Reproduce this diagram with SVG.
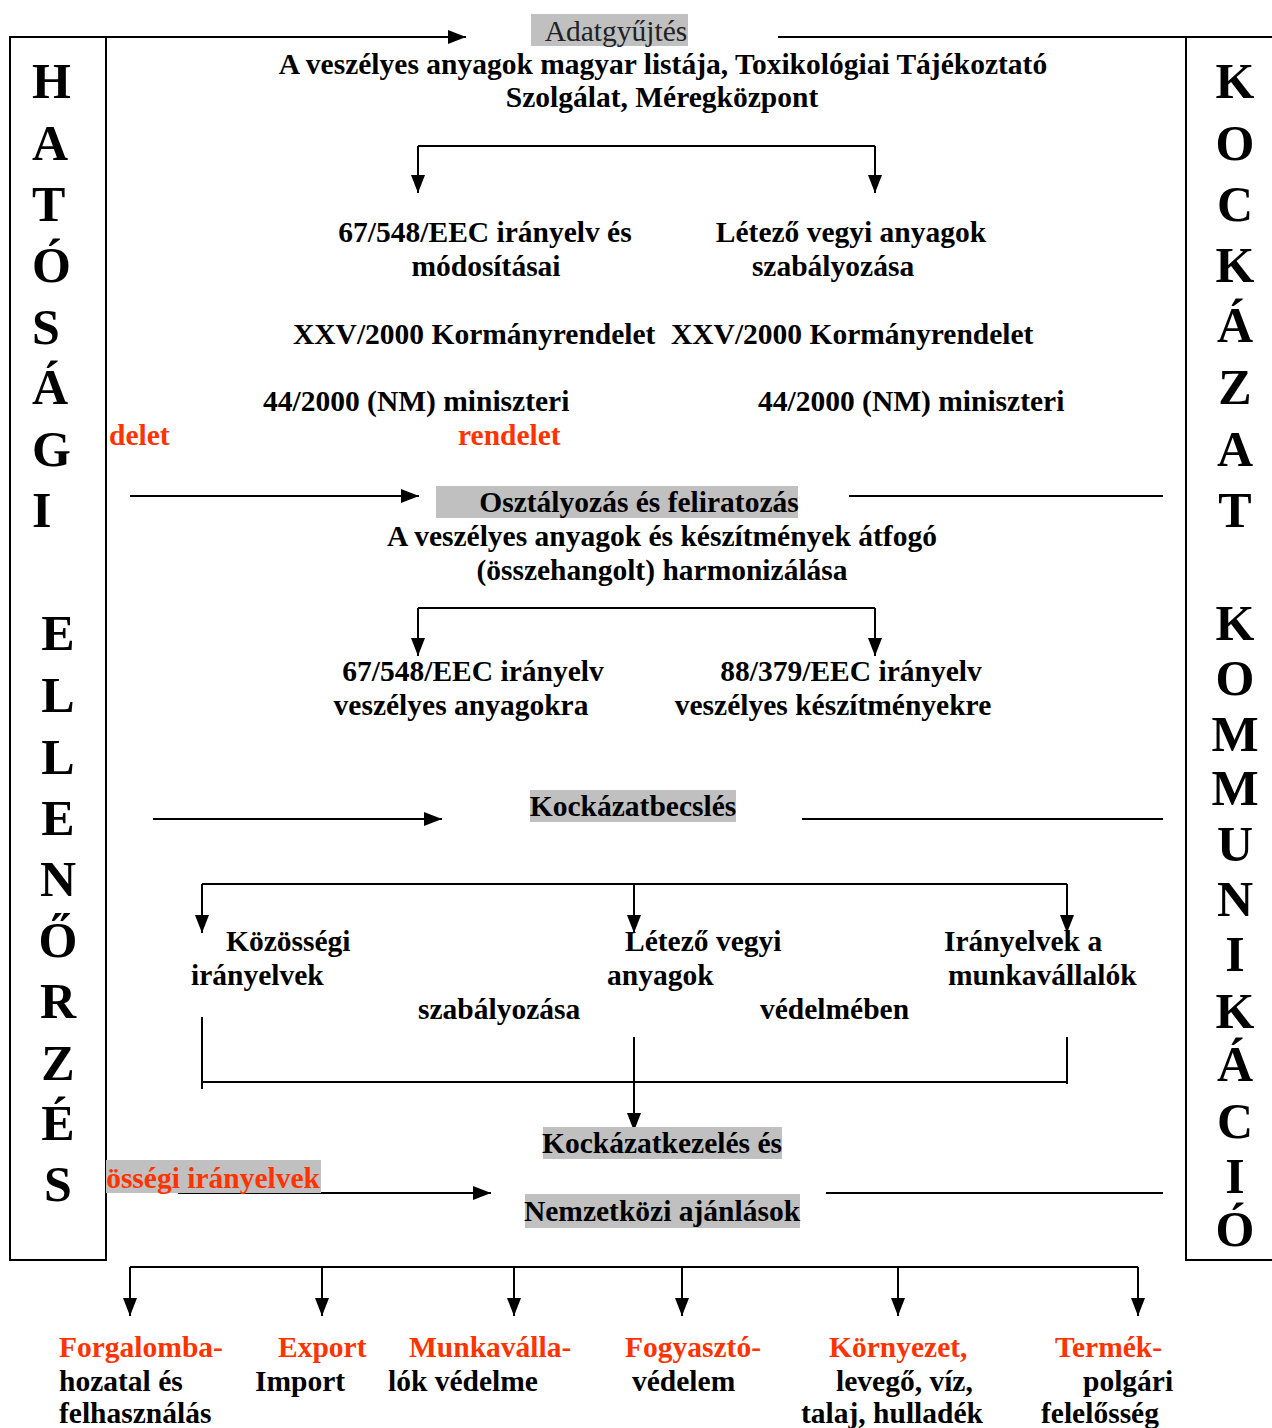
<svg xmlns="http://www.w3.org/2000/svg" width="1272" height="1428" viewBox="0 0 1272 1428">
<style>
text{font-family:"Liberation Serif","Times New Roman",serif;font-weight:bold;font-size:29.5px;fill:#000}
.red{fill:#FF3300}
.big{font-size:50px}
.reg{font-weight:normal;fill:#222}
.c{text-anchor:middle}
.hl{fill:#C0C0C0}
.ln{stroke:#000;stroke-width:2;fill:none}
</style>
<defs>
<marker id="ah" viewBox="0 0 18 14" refX="18" refY="7" markerWidth="18" markerHeight="14" markerUnits="userSpaceOnUse" orient="auto"><path d="M0,0 L18,7 L0,14 Z" fill="#000"/></marker>
</defs>
<rect width="1272" height="1428" fill="#fff"/>
<g id="connectors">
<path class="ln" d="M11,37 H466" marker-end="url(#ah)"/>
<path class="ln" d="M778,37 H1272"/>
<path class="ln" d="M418,146 H875"/>
<path class="ln" d="M418,146 V193" marker-end="url(#ah)"/>
<path class="ln" d="M875,146 V193" marker-end="url(#ah)"/>
<path class="ln" d="M130,496 H419" marker-end="url(#ah)"/>
<path class="ln" d="M849,496 H1163"/>
<path class="ln" d="M418,608 H875"/>
<path class="ln" d="M418,608 V656" marker-end="url(#ah)"/>
<path class="ln" d="M875,608 V656" marker-end="url(#ah)"/>
<path class="ln" d="M153,819 H442" marker-end="url(#ah)"/>
<path class="ln" d="M802,819 H1163"/>
<path class="ln" d="M202,884 H1067"/>
<path class="ln" d="M202,884 V933" marker-end="url(#ah)"/>
<path class="ln" d="M634,884 V933" marker-end="url(#ah)"/>
<path class="ln" d="M1067,884 V933" marker-end="url(#ah)"/>
<path class="ln" d="M202,1017 V1089 M202,1082 H1067 M1067,1037 V1084"/>
<path class="ln" d="M634,1037 V1131" marker-end="url(#ah)"/>
<path class="ln" d="M178,1193 H491" marker-end="url(#ah)"/>
<path class="ln" d="M826,1193 H1163"/>
<path class="ln" d="M130,1267 H1138"/>
<path class="ln" d="M130,1267 V1316" marker-end="url(#ah)"/>
<path class="ln" d="M322,1267 V1316" marker-end="url(#ah)"/>
<path class="ln" d="M514,1267 V1316" marker-end="url(#ah)"/>
<path class="ln" d="M682,1267 V1316" marker-end="url(#ah)"/>
<path class="ln" d="M898,1267 V1316" marker-end="url(#ah)"/>
<path class="ln" d="M1138,1267 V1316" marker-end="url(#ah)"/>
</g>
<g id="hatosagi">
<rect x="10" y="37" width="96" height="1223" fill="none" stroke="#000" stroke-width="2"/>
<text class="big" x="32" y="98">H</text>
<text class="big" x="32" y="160">A</text>
<text class="big" x="32" y="221">T</text>
<text class="big" x="32" y="282">Ó</text>
<text class="big" x="32" y="344">S</text>
<text class="big" x="32" y="404">Á</text>
<text class="big" x="32" y="466">G</text>
<text class="big" x="32" y="527">I</text>
<text class="big c" x="58" y="650">E</text>
<text class="big c" x="58" y="712">L</text>
<text class="big c" x="58" y="774">L</text>
<text class="big c" x="58" y="835">E</text>
<text class="big c" x="58" y="896">N</text>
<text class="big c" x="58" y="957">Ő</text>
<text class="big c" x="58" y="1018">R</text>
<text class="big c" x="58" y="1080">Z</text>
<text class="big c" x="58" y="1140">É</text>
<text class="big c" x="58" y="1201">S</text>
</g>
<g id="kockazati">
<rect x="1186" y="37" width="100" height="1223" fill="none" stroke="#000" stroke-width="2"/>
<text class="big c" x="1235" y="98">K</text>
<text class="big c" x="1235" y="160">O</text>
<text class="big c" x="1235" y="221">C</text>
<text class="big c" x="1235" y="282">K</text>
<text class="big c" x="1235" y="342">Á</text>
<text class="big c" x="1235" y="404">Z</text>
<text class="big c" x="1235" y="466">A</text>
<text class="big c" x="1235" y="527">T</text>
<text class="big c" x="1235" y="640">K</text>
<text class="big c" x="1235" y="695">O</text>
<text class="big c" x="1235" y="751">M</text>
<text class="big c" x="1235" y="805">M</text>
<text class="big c" x="1235" y="861">U</text>
<text class="big c" x="1235" y="916">N</text>
<text class="big c" x="1235" y="971">I</text>
<text class="big c" x="1235" y="1028">K</text>
<text class="big c" x="1235" y="1081">Á</text>
<text class="big c" x="1235" y="1138">C</text>
<text class="big c" x="1235" y="1193">I</text>
<text class="big c" x="1235" y="1246">Ó</text>
</g>
<g id="adatgyujtes">
<rect class="hl" x="531" y="14" width="157" height="32"/>
<text class="reg c" x="616" y="41">Adatgyűjtés</text>
<text class="c" x="663" y="74">A veszélyes anyagok magyar listája, Toxikológiai Tájékoztató</text>
<text class="c" x="662" y="107">Szolgálat, Méregközpont</text>
</g>
<g id="eec67-1">
<text class="c" x="485" y="242">67/548/EEC irányelv és</text>
<text class="c" x="486" y="276">módosításai</text>
<text x="293" y="344">XXV/2000 Kormányrendelet</text>
<text x="263" y="411">44/2000 (NM) miniszteri</text>
<text class="red" x="109" y="445">delet</text>
<text class="red" x="458" y="445">rendelet</text>
</g>
<g id="letezo-1">
<text class="c" x="851" y="242">Létező vegyi anyagok</text>
<text class="c" x="833" y="276">szabályozása</text>
<text x="671" y="344">XXV/2000 Kormányrendelet</text>
<text x="758" y="411">44/2000 (NM) miniszteri</text>
</g>
<g id="osztalyozas">
<rect class="hl" x="436" y="486" width="362" height="32"/>
<text class="c" x="639" y="512">Osztályozás és feliratozás</text>
<text class="c" x="662" y="546">A veszélyes anyagok és készítmények átfogó</text>
<text class="c" x="662" y="580">(összehangolt) harmonizálása</text>
</g>
<g id="eec67-2">
<text class="c" x="473" y="681">67/548/EEC irányelv</text>
<text class="c" x="461" y="715">veszélyes anyagokra</text>
</g>
<g id="eec88">
<text class="c" x="851" y="681">88/379/EEC irányelv</text>
<text class="c" x="833" y="715">veszélyes készítményekre</text>
</g>
<g id="kockazatbecsles">
<rect class="hl" x="530" y="790" width="206" height="32"/>
<text class="c" x="633" y="816">Kockázatbecslés</text>
</g>
<g id="kozossegi">
<text x="226" y="951">Közösségi</text>
<text x="191" y="985">irányelvek</text>
</g>
<g id="letezo-2">
<text x="625" y="951">Létező vegyi</text>
<text x="607" y="985">anyagok</text>
<text x="418" y="1019">szabályozása</text>
</g>
<g id="iranyelvek">
<text x="944" y="951">Irányelvek a</text>
<text x="948" y="985">munkavállalók</text>
<text x="760" y="1019">védelmében</text>
</g>
<g id="kockazatkezeles">
<rect class="hl" x="543" y="1127" width="239" height="32"/>
<text class="c" x="662" y="1153">Kockázatkezelés és</text>
<rect class="hl" x="525" y="1194" width="275" height="34"/>
<text class="c" x="662" y="1221">Nemzetközi ajánlások</text>
</g>
<g id="kozossegi-red">
<rect class="hl" x="106" y="1160" width="215" height="33"/>
<text class="red" x="320" y="1188" text-anchor="end">össégi irányelvek</text>
</g>
<g id="forgalomba">
<text class="red" x="59" y="1357">Forgalomba-</text>
<text x="59" y="1391">hozatal és</text>
<text x="59" y="1423">felhasználás</text>
</g>
<g id="export">
<text class="red" x="278" y="1357">Export</text>
<text x="255" y="1391">Import</text>
</g>
<g id="munkavallalok">
<text class="red" x="409" y="1357">Munkaválla-</text>
<text x="388" y="1391">lók védelme</text>
</g>
<g id="fogyaszto">
<text class="red" x="625" y="1357">Fogyasztó-</text>
<text x="632" y="1391">védelem</text>
</g>
<g id="kornyezet">
<text class="red" x="829" y="1357">Környezet,</text>
<text x="836" y="1391">levegő, víz,</text>
<text x="801" y="1423">talaj, hulladék</text>
</g>
<g id="termek">
<text class="red" x="1055" y="1357">Termék-</text>
<text x="1083" y="1391">polgári</text>
<text x="1041" y="1423">felelősség</text>
</g>
</svg>
